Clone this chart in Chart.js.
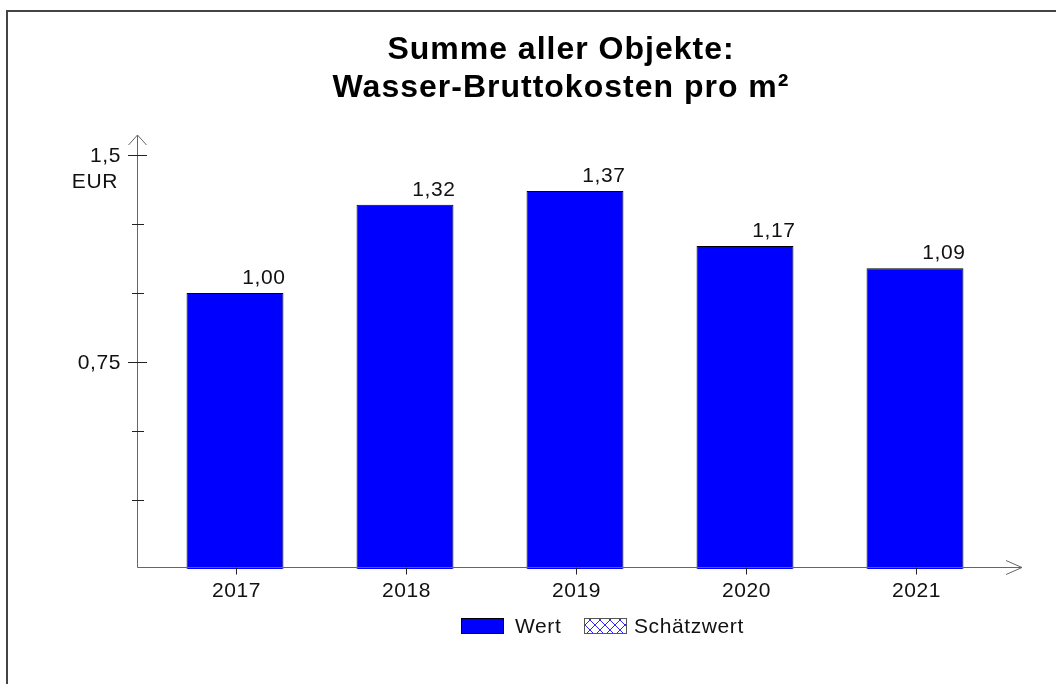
<!DOCTYPE html>
<html>
<head>
<meta charset="utf-8">
<script src="https://cdn.jsdelivr.net/npm/chart.js@4/dist/chart.umd.min.js"></script>
<style>
  html, body { margin: 0; padding: 0; background: #fff; }
  #wrap { width: 1056px; height: 684px; }
</style>
</head>
<body>
<div id="wrap"><canvas id="chart" width="1056" height="684"></canvas></div>
<script>
const years = ["2017", "2018", "2019", "2020", "2021"];
const wert = [1.00, 1.32, 1.37, 1.17, 1.09];
const yTicks = [0.25, 0.5, 0.75, 1.0, 1.25, 1.5];
const yLabelled = [0.75, 1.5];
const yUnit = "EUR";
const titleLines = ["Summe aller Objekte:", "Wasser-Bruttokosten pro m²"];
const legendLabels = ["Wert", "Schätzwert"];

const FONT = "'Liberation Sans', Arial, sans-serif";
const fmt = (v, d) => v.toFixed(d).replace(".", ",");

// crosshatch fill for the "Schätzwert" legend box
const hatch = (() => {
  const c = document.createElement("canvas");
  c.width = 10; c.height = 10;
  const g = c.getContext("2d");
  g.fillStyle = "#fff";
  g.fillRect(0, 0, 10, 10);
  g.strokeStyle = "#2a2aff";
  g.lineWidth = 1;
  g.beginPath();
  g.moveTo(0, 0); g.lineTo(10, 10);
  g.moveTo(10, 0); g.lineTo(0, 10);
  g.stroke();
  return document.getElementById("chart").getContext("2d").createPattern(c, "repeat");
})();

// axes, labels, title, legend and frame
const decor = {
  id: "decor",
  afterDatasetsDraw(chart) {
    const ctx = chart.ctx;
    const x = chart.scales.x, y = chart.scales.y;
    const axX = 137.5, axY = 567.5;
    ctx.save();

    // frame
    ctx.strokeStyle = "#444";
    ctx.lineWidth = 2;
    ctx.beginPath();
    ctx.moveTo(7, 700); ctx.lineTo(7, 11); ctx.lineTo(1060, 11);
    ctx.stroke();

    // y axis with arrow
    ctx.lineWidth = 1;
    ctx.strokeStyle = "#666";
    ctx.beginPath();
    ctx.moveTo(axX, axY); ctx.lineTo(axX, 135);
    ctx.moveTo(axX - 9, 145); ctx.lineTo(axX, 135); ctx.lineTo(axX + 9, 145);
    ctx.stroke();

    // x axis with arrow
    ctx.beginPath();
    ctx.moveTo(axX, axY); ctx.lineTo(1022, axY);
    ctx.moveTo(1006, axY - 7); ctx.lineTo(1022, axY); ctx.lineTo(1006, axY + 7);
    ctx.stroke();

    // y ticks and labels
    ctx.strokeStyle = "#222";
    ctx.fillStyle = "#111";
    ctx.font = "21px " + FONT;
    ctx.letterSpacing = "0.6px";
    ctx.textAlign = "right";
    ctx.textBaseline = "middle";
    yTicks.forEach(v => {
      const py = Math.round(y.getPixelForValue(v)) + 0.5;
      const major = yLabelled.includes(v);
      ctx.beginPath();
      ctx.moveTo(major ? 128 : 132, py);
      ctx.lineTo(major ? 147 : 144, py);
      ctx.stroke();
      if (major) ctx.fillText(fmt(v, v === 1.5 ? 1 : 2), 121, py + 1);
    });
    ctx.fillText(yUnit, 118, y.getPixelForValue(1.5) + 27);

    // x ticks and labels
    ctx.textAlign = "center";
    years.forEach((lab, i) => {
      const px = Math.round(x.getPixelForValue(i)) + 1.5;
      ctx.beginPath();
      ctx.moveTo(px, axY); ctx.lineTo(px, axY + 7);
      ctx.stroke();
      ctx.fillText(lab, px, 591);
    });

    // value labels
    ctx.textAlign = "right";
    ctx.textBaseline = "alphabetic";
    chart.getDatasetMeta(0).data.forEach((bar, i) => {
      ctx.fillText(fmt(wert[i], 2), bar.x + bar.width / 2 + 2, bar.y - 9);
    });

    // title
    ctx.textAlign = "center";
    ctx.font = "bold 32px " + FONT;
    ctx.letterSpacing = "1px";
    ctx.fillStyle = "#000";
    ctx.fillText(titleLines[0], 561, 59);
    ctx.fillText(titleLines[1], 561, 97);

    // legend
    ctx.font = "21px " + FONT;
    ctx.letterSpacing = "0.6px";
    ctx.textAlign = "left";
    ctx.textBaseline = "middle";
    ctx.lineWidth = 1;
    ctx.fillStyle = "#0000ff";
    ctx.fillRect(461, 618, 43, 16);
    ctx.strokeStyle = "#000";
    ctx.strokeRect(461.5, 618.5, 42, 15);
    ctx.fillStyle = "#111";
    ctx.fillText(legendLabels[0], 515, 627);
    ctx.fillStyle = hatch;
    ctx.fillRect(584, 618, 43, 16);
    ctx.strokeStyle = "#555";
    ctx.strokeRect(584.5, 618.5, 42, 15);
    ctx.fillStyle = "#111";
    ctx.fillText(legendLabels[1], 634, 627);

    ctx.restore();
  }
};

new Chart(document.getElementById("chart"), {
  type: "bar",
  plugins: [decor],
  data: {
    labels: years,
    datasets: [{
      label: legendLabels[0],
      data: wert,
      backgroundColor: "#0000ff",
      borderColor: "#000",
      borderWidth: 1,
      categoryPercentage: 1,
      barPercentage: 0.57,
    }],
  },
  options: {
    responsive: false,
    animation: false,
    layout: { padding: { left: 150, right: 56, top: 155, bottom: 115 } },
    scales: {
      x: { display: false },
      y: { display: false, min: 0, max: 1.5 },
    },
    plugins: {
      legend: { display: false },
      title: { display: false },
      tooltip: { enabled: false },
    },
  },
});
</script>
</body>
</html>
